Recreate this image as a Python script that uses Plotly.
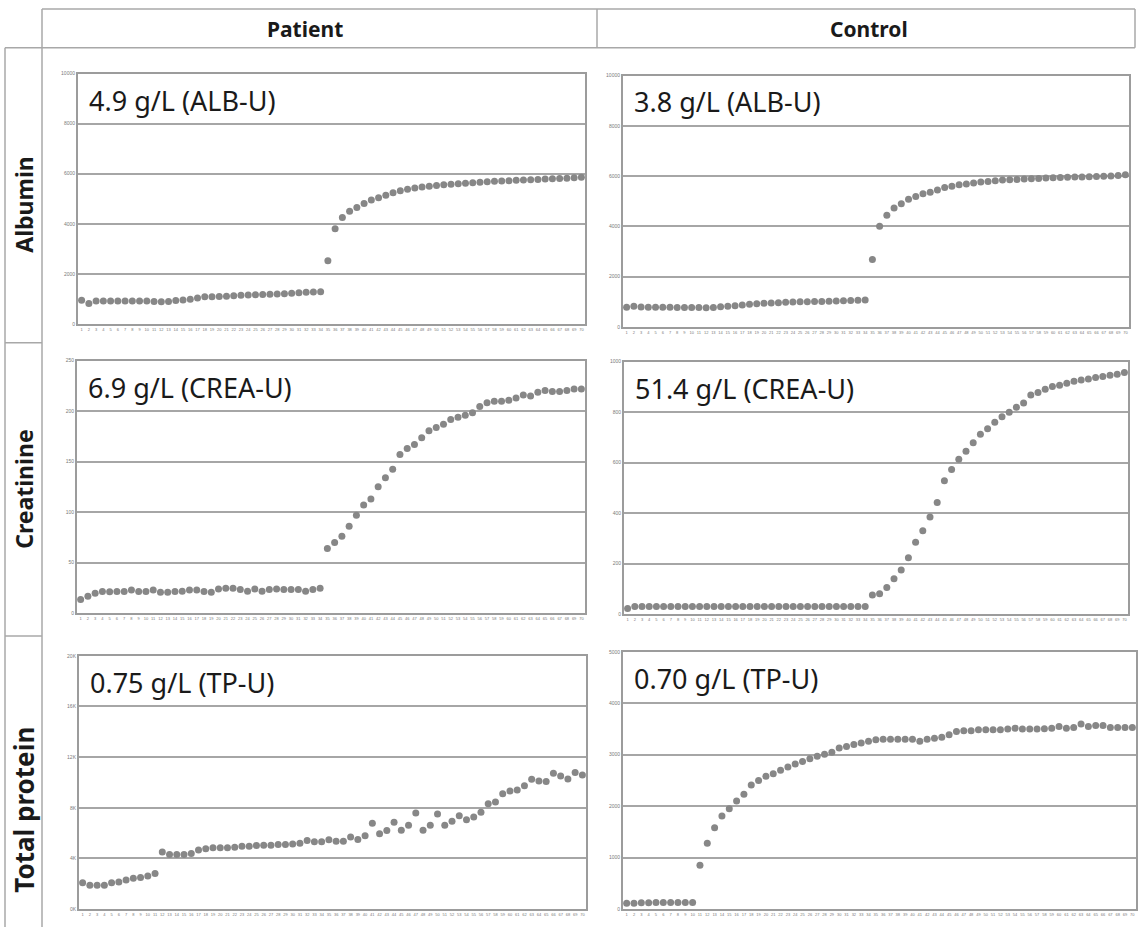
import plotly.graph_objects as go

# ---------------- data ----------------
sample_index = list(range(1, 71))
x_tick_labels = [str(i) for i in sample_index]

column_titles = ["Patient", "Control"]
row_titles = ["Albumin", "Creatinine", "Total protein"]

patient_albumin = [950, 820, 920, 920, 920, 920, 920, 920, 920, 920,
                   900, 890, 900, 940, 960, 990, 1040, 1080, 1080, 1090,
                   1100, 1120, 1140, 1150, 1160, 1170, 1180, 1190, 1200, 1220,
                   1240, 1260, 1270, 1280, 2520, 3800, 4250, 4500, 4650, 4810,
                   4950, 5040, 5140, 5240, 5320, 5380, 5430, 5470, 5500, 5530,
                   5560, 5580, 5600, 5620, 5640, 5660, 5680, 5700, 5710, 5720,
                   5740, 5750, 5760, 5770, 5790, 5800, 5810, 5820, 5840, 5860]

control_albumin = [780, 820, 790, 780, 780, 780, 780, 770, 770, 770,
                   770, 760, 770, 800, 820, 840, 870, 900, 920, 940,
                   950, 960, 980, 990, 1000, 1000, 1010, 1010, 1020, 1030,
                   1040, 1050, 1060, 1070, 2680, 4000, 4440, 4730, 4900, 5075,
                   5190, 5300, 5360, 5450, 5550, 5600, 5650, 5680, 5720, 5760,
                   5785, 5810, 5840, 5850, 5865, 5880, 5890, 5905, 5920, 5930,
                   5940, 5950, 5960, 5965, 5975, 5980, 5990, 6000, 6020, 6050]

patient_creatinine = [13.4, 16.7, 19.6, 21.3, 21.0, 21.3, 21.3, 22.9, 21.3, 21.3,
                      22.9, 20.5, 20.5, 21.3, 21.6, 22.9, 22.9, 21.3, 20.5, 23.9,
                      24.5, 24.5, 23.3, 21.6, 23.9, 21.6, 23.3, 23.9, 23.3, 23.3,
                      23.3, 21.6, 23.3, 24.5, 64, 70, 76, 86, 97, 107,
                      113, 125, 134, 142.5, 157, 163, 167, 173.6, 180.5, 183.8,
                      187, 191.7, 194, 196, 198.5, 204.7, 208.4, 209.7, 209.7, 210.7,
                      213, 216, 215, 218.8, 220.5, 219.5, 219.5, 220.5, 222, 222]

control_creatinine = [22, 30, 30, 30, 30, 30, 30, 30, 30, 30,
                      30, 30, 30, 30, 30, 30, 30, 30, 30, 30,
                      30, 30, 30, 30, 30, 30, 30, 30, 30, 30,
                      30, 30, 30, 30, 75, 80, 105, 140, 174, 223,
                      284, 330, 384, 442, 528, 573, 613, 645, 679, 712,
                      734, 760, 782, 800, 819, 836, 868, 878, 891, 902,
                      907, 914, 922, 927, 931, 937, 941, 946, 950, 957]

patient_total_protein = [2090, 1880, 1880, 1880, 2090, 2140, 2300, 2430, 2500, 2620,
                         2820, 4500, 4310, 4310, 4310, 4390, 4660, 4760, 4840, 4840,
                         4840, 4890, 4970, 4970, 5020, 5050, 5050, 5100, 5100, 5150,
                         5200, 5420, 5310, 5310, 5470, 5360, 5360, 5700, 5490, 5800,
                         6780, 5940, 6200, 6850, 6230, 6620, 7580, 6230, 6620, 7500,
                         6620, 6930, 7370, 7060, 7270, 7640, 8310, 8450, 9100, 9330,
                         9410, 9730, 10250, 10120, 10070, 10720, 10510, 10270, 10780, 10590]

control_total_protein = [116, 116, 125, 125, 128, 128, 128, 128, 128, 130,
                         850, 1280, 1580, 1810, 1950, 2100, 2230, 2410, 2500, 2580,
                         2630, 2700, 2760, 2820, 2870, 2920, 2970, 3010, 3050, 3130,
                         3160, 3200, 3230, 3260, 3290, 3300, 3300, 3300, 3300, 3300,
                         3260, 3300, 3320, 3340, 3390, 3450, 3465, 3465, 3485, 3485,
                         3485, 3485, 3500, 3515, 3500, 3500, 3500, 3505, 3515, 3550,
                         3515, 3530, 3595, 3550, 3570, 3570, 3530, 3530, 3530, 3530]

panel_labels = ["4.9 g/L (ALB-U)", "3.8 g/L (ALB-U)",
                "6.9 g/L (CREA-U)", "51.4 g/L (CREA-U)",
                "0.75 g/L (TP-U)", "0.70 g/L (TP-U)"]

albumin_ticks = [0, 2000, 4000, 6000, 8000, 10000]
albumin_ticktext = ["0", "2000", "4000", "6000", "8000", "10000"]
patient_crea_ticks = [0, 50, 100, 150, 200, 250]
patient_crea_ticktext = ["0", "50", "100", "150", "200", "250"]
control_crea_ticks = [0, 200, 400, 600, 800, 1000]
control_crea_ticktext = ["0", "200", "400", "600", "800", "1000"]
patient_tp_ticks = [0, 4000, 8000, 12000, 16000, 20000]
patient_tp_ticktext = ["0K", "4K", "8K", "12K", "16K", "20K"]
control_tp_ticks = [0, 1000, 2000, 3000, 4000, 5000]
control_tp_ticktext = ["0", "1000", "2000", "3000", "4000", "5000"]

# ---------------- layout helpers ----------------
W, H = 1140, 930


def fx(px):
    return px / W


def fy(py):
    return 1 - py / H


panels = [
    (patient_albumin, (78, 585), (71, 323), albumin_ticks, albumin_ticktext),
    (control_albumin, (623, 1129), (73, 326), albumin_ticks, albumin_ticktext),
    (patient_creatinine, (77, 585), (360, 614), patient_crea_ticks, patient_crea_ticktext),
    (control_creatinine, (624, 1128), (361, 615), control_crea_ticks, control_crea_ticktext),
    (patient_total_protein, (79, 586), (657, 912), patient_tp_ticks, patient_tp_ticktext),
    (control_total_protein, (623, 1136), (653, 912), control_tp_ticks, control_tp_ticktext),
]

DOT = "#878787"
GRID = "#a6a6a6"
FRAME = "#9c9c9c"
TICK = "#7a7a7a"

fig = go.Figure()
layout_axes = {}
annotations = []

for i, (vals, (x0, x1), (y0, y1), tv, tt) in enumerate(panels):
    n = i + 1
    xa = "x" if n == 1 else f"x{n}"
    ya = "y" if n == 1 else f"y{n}"
    fig.add_trace(go.Scatter(
        x=sample_index, y=vals, mode="markers", xaxis=xa, yaxis=ya,
        marker=dict(size=7, color=DOT, line=dict(width=0)),
        showlegend=False, hoverinfo="x+y"))
    xkey = "xaxis" if n == 1 else f"xaxis{n}"
    ykey = "yaxis" if n == 1 else f"yaxis{n}"
    layout_axes[xkey] = dict(
        domain=[fx(x0), fx(x1)], anchor=ya, range=[0.5, 70.5],
        tickmode="array", tickvals=sample_index, ticktext=x_tick_labels,
        tickangle=0, tickfont=dict(size=4, color=TICK, family="Arial"),
        showgrid=False, zeroline=False, ticks="",
        showline=True, mirror=True, linecolor=FRAME, linewidth=2)
    layout_axes[ykey] = dict(
        domain=[fy(y1), fy(y0)], anchor=xa, range=[tv[0], tv[-1]],
        tickmode="array", tickvals=tv, ticktext=tt,
        tickfont=dict(size=5, color=TICK, family="Arial"),
        showgrid=True, gridcolor=GRID, gridwidth=1.6,
        zeroline=False, ticks="",
        showline=True, mirror=True, linecolor=FRAME, linewidth=2)
    annotations.append(dict(
        text=panel_labels[i], xref="paper", yref="paper",
        x=fx(x0 + 9), y=fy(y0 + 6), xanchor="left", yanchor="top",
        showarrow=False, font=dict(size=27, color="#1a1a1a", family="Noto Sans")))

# column headers
for title, cx in zip(column_titles, [305, 869]):
    annotations.append(dict(
        text=f"<b>{title}</b>", xref="paper", yref="paper",
        x=fx(cx), y=fy(26), xanchor="center", yanchor="middle",
        showarrow=False, font=dict(size=21, color="#1a1a1a", family="Noto Sans")))

# row headers
for title, cy, fs in zip(row_titles, [203, 490, 812], [23, 23, 26]):
    annotations.append(dict(
        text=f"<b>{title}</b>", xref="paper", yref="paper",
        x=fx(24), y=fy(cy), xanchor="center", yanchor="middle", textangle=-90,
        showarrow=False, font=dict(size=fs, color="#1a1a1a", family="Noto Sans")))

# table lines
LINE = "#a8a8a8"
segments = [
    ((42, 6), (1135, 6)),
    ((5, 45), (1135, 45)),
    ((42, 6), (42, 930)),
    ((5, 45), (5, 930)),
    ((597, 6), (597, 45)),
    ((1135, 6), (1135, 45)),
    ((5, 342), (42, 342)),
    ((5, 637), (42, 637)),
]
shapes = [dict(type="line", xref="paper", yref="paper",
               x0=fx(a[0]), y0=fy(a[1]), x1=fx(b[0]), y1=fy(b[1]),
               line=dict(color=LINE, width=1.5)) for a, b in segments]

fig.update_layout(
    width=W, height=H, margin=dict(l=0, r=0, t=0, b=0),
    paper_bgcolor="white", plot_bgcolor="white",
    annotations=annotations, shapes=shapes, **layout_axes)

fig.write_html(
    "out.html",
    config={"displayModeBar": False},
    post_script="document.body.style.margin='0';document.body.style.overflow='hidden';")
